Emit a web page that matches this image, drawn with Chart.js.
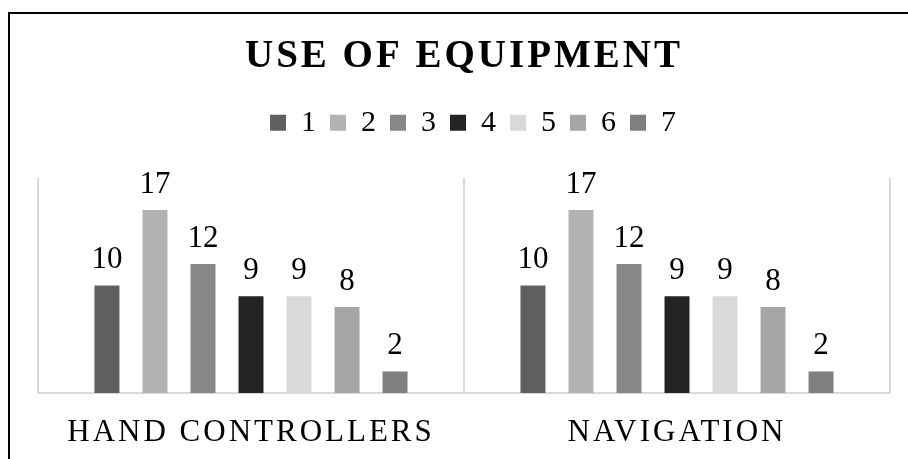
<!DOCTYPE html>
<html lang="en">

<head>
  <meta charset="UTF-8">
  <title>Use of Equipment</title>
  <script src="https://cdn.jsdelivr.net/npm/chart.js"></script>
  <style>
    html, body {
      margin: 0;
      padding: 0;
      background: #fff;
    }
    #chartContainer {
      position: relative;
      width: 908px;
      height: 459px;
    }
    #frame {
      position: absolute;
      left: 8px;
      top: 12px;
      right: 0;
      bottom: 0;
      border-top: 2px solid #000;
      border-left: 2px solid #000;
      pointer-events: none;
    }
  </style>
</head>

<body>

  <div id="chartContainer">
    <canvas id="barEquipment"></canvas>
    <div id="frame"></div>
  </div>

  <script>
    const categories = ['HAND CONTROLLERS', 'NAVIGATION'];
    const seriesNames = ['1', '2', '3', '4', '5', '6', '7'];
    const handControllers = [10, 17, 12, 9, 9, 8, 2];
    const navigation = [10, 17, 12, 9, 9, 8, 2];
    const seriesColors = ['#5f5f5f', '#b2b2b2', '#878787', '#232323', '#d9d9d9', '#a6a6a6', '#7f7f7f'];

    const serif = '"Liberation Serif", "Times New Roman", serif';

    // Excel-style spaced caps for title and axis labels
    const letterSpacing = {
      id: 'letterSpacing',
      beforeDraw(chart) { chart.ctx.letterSpacing = '3px'; },
      beforeDatasetsDraw(chart) { chart.ctx.letterSpacing = '0px'; },
      afterDraw(chart) { chart.ctx.letterSpacing = '0px'; }
    };

    // extra room between the legend and the plot
    const legendGap = {
      id: 'legendGap',
      beforeInit(chart) {
        const fit = chart.legend.fit;
        chart.legend.fit = function () {
          fit.call(this);
          this.height += 30;
        };
      }
    };

    // value above each bar
    const valueLabels = {
      id: 'valueLabels',
      afterDatasetsDraw(chart) {
        const ctx = chart.ctx;
        ctx.save();
        ctx.font = '31px ' + serif;
        ctx.fillStyle = '#000';
        ctx.textAlign = 'center';
        ctx.textBaseline = 'alphabetic';
        chart.data.datasets.forEach((ds, i) => {
          chart.getDatasetMeta(i).data.forEach((bar, j) => {
            ctx.fillText(ds.data[j], bar.x, bar.y - 17);
          });
        });
        ctx.restore();
      }
    };

    const ctx = document.getElementById('barEquipment').getContext('2d');
    new Chart(ctx, {
      type: 'bar',
      data: {
        labels: categories,
        datasets: seriesNames.map((name, i) => ({
          label: name,
          data: [handControllers[i], navigation[i]],
          backgroundColor: seriesColors[i],
          borderWidth: 0,
          categoryPercentage: 0.789,
          barPercentage: 0.52
        }))
      },
      options: {
        responsive: true,
        maintainAspectRatio: false,
        animation: false,
        layout: {
          padding: { left: 38, right: 18, top: 0, bottom: 0 }
        },
        plugins: {
          tooltip: { enabled: false },
          title: {
            display: true,
            text: 'USE OF EQUIPMENT',
            color: '#000',
            font: { family: serif, size: 39, weight: 'bold' },
            padding: { top: 34, bottom: 16 }
          },
          legend: {
            position: 'top',
            labels: {
              color: '#000',
              font: { family: serif, size: 30 },
              boxWidth: 16,
              boxHeight: 16,
              padding: 11
            }
          }
        },
        scales: {
          x: {
            grid: {
              color: '#d9d9d9',
              lineWidth: 2,
              drawTicks: false
            },
            border: { color: '#d9d9d9', width: 2 },
            ticks: {
              color: '#000',
              font: { family: serif, size: 31 },
              padding: 21,
              maxRotation: 0
            },
            afterFit(scale) {
              scale.height = 66;
            }
          },
          y: {
            display: false,
            min: 0,
            max: 20
          }
        }
      },
      plugins: [letterSpacing, legendGap, valueLabels]
    });
  </script>
</body>

</html>
